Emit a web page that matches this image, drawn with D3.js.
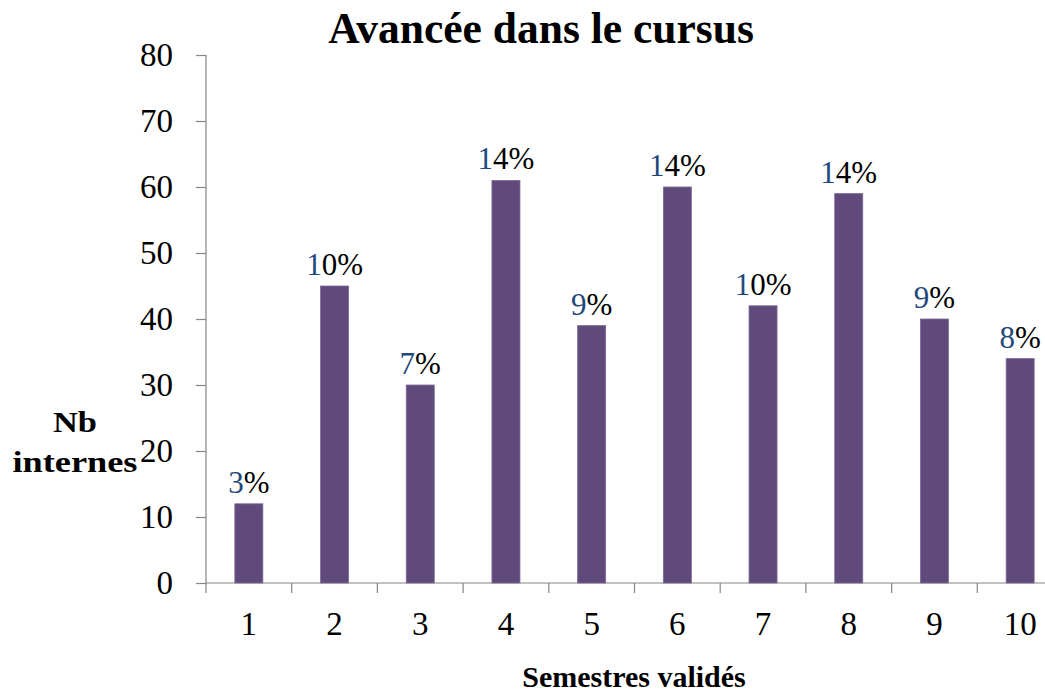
<!DOCTYPE html>
<html><head><meta charset="utf-8">
<script src="https://cdn.jsdelivr.net/npm/d3@7"></script>
<style>body{margin:0;background:#fff;}svg{display:block;}</style>
</head><body>
<script>
const categories = ["1","2","3","4","5","6","7","8","9","10"];
const values = [12,45,30,61,39,60,42,59,40,34];
const labels = ["3%","10%","7%","14%","9%","14%","10%","14%","9%","8%"];
const yTicks = [0,10,20,30,40,50,60,70,80];

const W=1045,H=696;
const svg=d3.select("body").append("svg").attr("width",W).attr("height",H);
const serif="'Liberation Serif','Times New Roman',serif";

const x=d3.scaleBand().domain(categories).range([206,1063]).paddingInner(0.673).paddingOuter(0.3365);
const xs=d3.scaleBand().domain(categories).range([206,1063]);
const y=d3.scaleLinear().domain([0,80]).range([583,55]);

// y axis
const ya=svg.append("g").attr("transform","translate(206,0)")
  .call(d3.axisLeft(y).tickValues(yTicks).tickSize(10).tickPadding(23));
ya.select(".domain").attr("stroke","#868686").attr("stroke-width",1.2).attr("d","M0,55V583");
ya.selectAll(".tick line").attr("stroke","#868686").attr("stroke-width",1.2);
ya.selectAll(".tick text").attr("font-family",serif).attr("font-size",33).attr("fill","#000");

// x axis
const xa=svg.append("g").attr("transform","translate(0,583)")
  .call(d3.axisBottom(xs).tickSize(0).tickPadding(29));
xa.select(".domain").attr("stroke","#868686").attr("stroke-width",1.2).attr("d","M206,0H1063");
xa.selectAll(".tick text").attr("font-family",serif).attr("font-size",33).attr("fill","#000");
// boundary ticks
svg.append("g").selectAll("line").data(categories).join("line")
  .attr("x1",d=>xs(d)).attr("x2",d=>xs(d)).attr("y1",583).attr("y2",593)
  .attr("stroke","#868686").attr("stroke-width",1.2);

// bars
svg.append("g").selectAll("rect").data(values).join("rect")
  .attr("x",(d,i)=>x(categories[i])).attr("width",x.bandwidth())
  .attr("y",d=>y(d)).attr("height",d=>583-y(d))
  .attr("fill","#604A7B").attr("stroke","#7d6a96").attr("stroke-width",0.8);

// data labels
const lt=svg.append("g").selectAll("text").data(values).join("text")
  .attr("x",(d,i)=>x(categories[i])+x.bandwidth()/2).attr("y",d=>y(d)-11)
  .attr("text-anchor","middle").attr("font-family",serif).attr("font-size",31);
lt.append("tspan").attr("fill","#1F497D").text((d,i)=>labels[i].slice(0,1));
lt.append("tspan").attr("fill","#000").text((d,i)=>labels[i].slice(1));

// title
svg.append("text").attr("x",541).attr("y",43).attr("text-anchor","middle")
  .attr("font-family",serif).attr("font-weight","bold").attr("font-size",43.5).text("Avancée dans le cursus");
// y label
svg.append("text").attr("x",75).attr("y",432).attr("text-anchor","middle")
  .attr("font-family",serif).attr("font-weight","bold").attr("font-size",30)
  .attr("textLength",44).attr("lengthAdjust","spacingAndGlyphs").text("Nb");
svg.append("text").attr("x",75).attr("y",472).attr("text-anchor","middle")
  .attr("font-family",serif).attr("font-weight","bold").attr("font-size",30)
  .attr("textLength",125).attr("lengthAdjust","spacingAndGlyphs").text("internes");
// x label
svg.append("text").attr("x",634).attr("y",687).attr("text-anchor","middle")
  .attr("font-family",serif).attr("font-weight","bold").attr("font-size",30).text("Semestres validés");
</script>
</body></html>
